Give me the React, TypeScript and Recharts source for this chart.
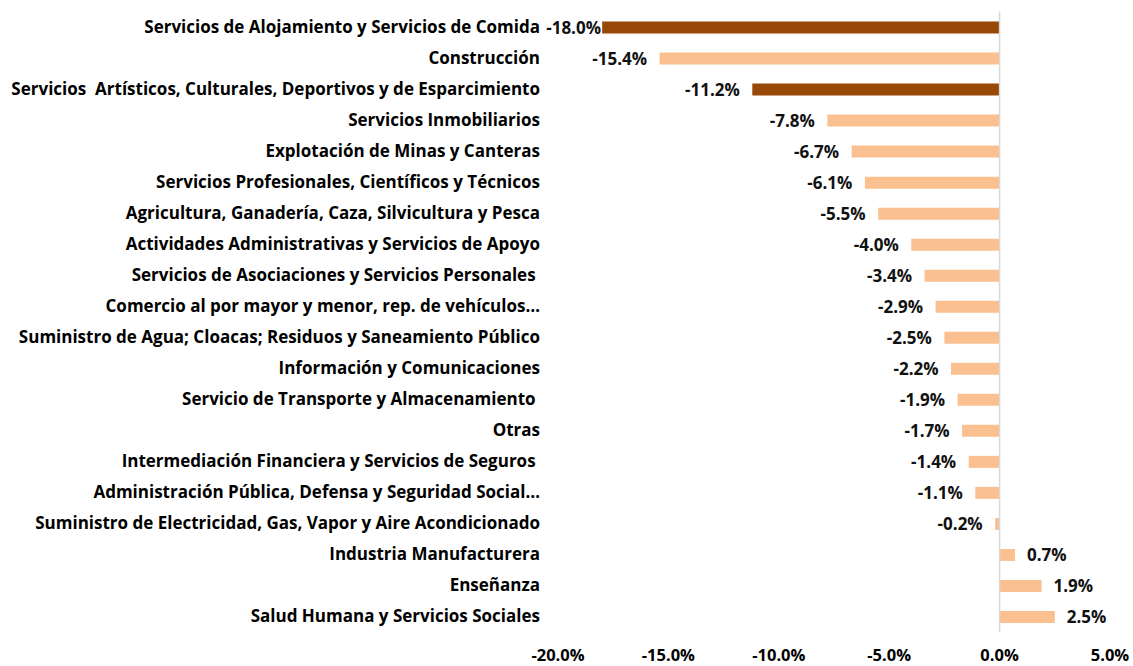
import React from 'react';
import { BarChart, Bar, XAxis, YAxis, Cell, LabelList, ReferenceLine } from 'recharts';

const categories = [
  'Servicios de Alojamiento y Servicios de Comida',
  'Construcción',
  'Servicios  Artísticos, Culturales, Deportivos y de Esparcimiento',
  'Servicios Inmobiliarios',
  'Explotación de Minas y Canteras',
  'Servicios Profesionales, Científicos y Técnicos',
  'Agricultura, Ganadería, Caza, Silvicultura y Pesca',
  'Actividades Administrativas y Servicios de Apoyo',
  'Servicios de Asociaciones y Servicios Personales ',
  'Comercio al por mayor y menor, rep. de vehículos…',
  'Suministro de Agua; Cloacas; Residuos y Saneamiento Público',
  'Información y Comunicaciones',
  'Servicio de Transporte y Almacenamiento ',
  'Otras',
  'Intermediación Financiera y Servicios de Seguros ',
  'Administración Pública, Defensa y Seguridad Social…',
  'Suministro de Electricidad, Gas, Vapor y Aire Acondicionado',
  'Industria Manufacturera',
  'Enseñanza',
  'Salud Humana y Servicios Sociales',
];

const values = [-18.0, -15.4, -11.2, -7.8, -6.7, -6.1, -5.5, -4.0, -3.4, -2.9, -2.5, -2.2, -1.9, -1.7, -1.4, -1.1, -0.2, 0.7, 1.9, 2.5];

const highlighted = [
  'Servicios de Alojamiento y Servicios de Comida',
  'Servicios  Artísticos, Culturales, Deportivos y de Esparcimiento',
];

const xTicks = [-20, -15, -10, -5, 0, 5];

const DARK = '#984807';
const LIGHT = '#FAC090';
const FONT = '"Open Sans", "Noto Sans", sans-serif';
const FS = 17;

const data = categories.map((name, i) => ({ name, value: values[i] }));

const W = 1133;
const H = 666;
const Y_AXIS_W = 558;
const PLOT_LEFT = Y_AXIS_W;

const YTick = (props: any) => {
  const { x, y, payload } = props;
  return (
    <text
      x={x}
      y={y}
      dy={6}
      textAnchor="end"
      fontFamily={FONT}
      fontWeight={700}
      fontSize={FS}
      fill="#000"
      style={{ whiteSpace: 'pre' }}
    >
      {payload.value}
    </text>
  );
};

const XTick = (props: any) => {
  const { x, payload } = props;
  return (
    <text
      x={x}
      y={661}
      textAnchor="middle"
      fontFamily={FONT}
      fontWeight={700}
      fontSize={16.5}
      fill="#000"
    >
      {payload.value.toFixed(1) + '%'}
    </text>
  );
};

const ValueLabel = (props: any) => {
  const { x, y, width, height, value } = props;
  const left = Math.min(x, x + width);
  const right = Math.max(x, x + width);
  const cy = y + height / 2;
  const text = value.toFixed(1) + '%';
  if (value < 0) {
    const endX = Math.max(left - 12.5, PLOT_LEFT + 43);
    return (
      <text x={endX} y={cy} dy={6} textAnchor="end" fontFamily={FONT} fontWeight={700} fontSize={FS} fill="#111">
        {text}
      </text>
    );
  }
  return (
    <text x={right + 12} y={cy} dy={6} textAnchor="start" fontFamily={FONT} fontWeight={700} fontSize={FS} fill="#111">
      {text}
    </text>
  );
};

export default function App() {
  return (
    <div style={{ position: 'absolute', left: 0, top: 0, width: W, height: H, background: '#fff' }}>
      <BarChart
        width={W}
        height={H}
        data={data}
        layout="vertical"
        margin={{ top: 11.5, right: 23, left: 0, bottom: 0 }}
        barCategoryGap={0}
      >
        <XAxis
          type="number"
          domain={[-20, 5]}
          ticks={xTicks}
          axisLine={false}
          tickLine={false}
          height={34}
          tick={<XTick />}
          interval={0}
        />
        <YAxis
          type="category"
          dataKey="name"
          width={Y_AXIS_W}
          axisLine={false}
          tickLine={false}
          tick={<YTick />}
          interval={0}
          tickMargin={12}
        />
        <ReferenceLine x={0} stroke="#d9d9d9" strokeWidth={1.5} />
        <Bar dataKey="value" barSize={12} isAnimationActive={false}>
          {data.map((d) => (
            <Cell key={d.name} fill={highlighted.includes(d.name) ? DARK : LIGHT} />
          ))}
          <LabelList dataKey="value" content={<ValueLabel />} />
        </Bar>
      </BarChart>
    </div>
  );
}
